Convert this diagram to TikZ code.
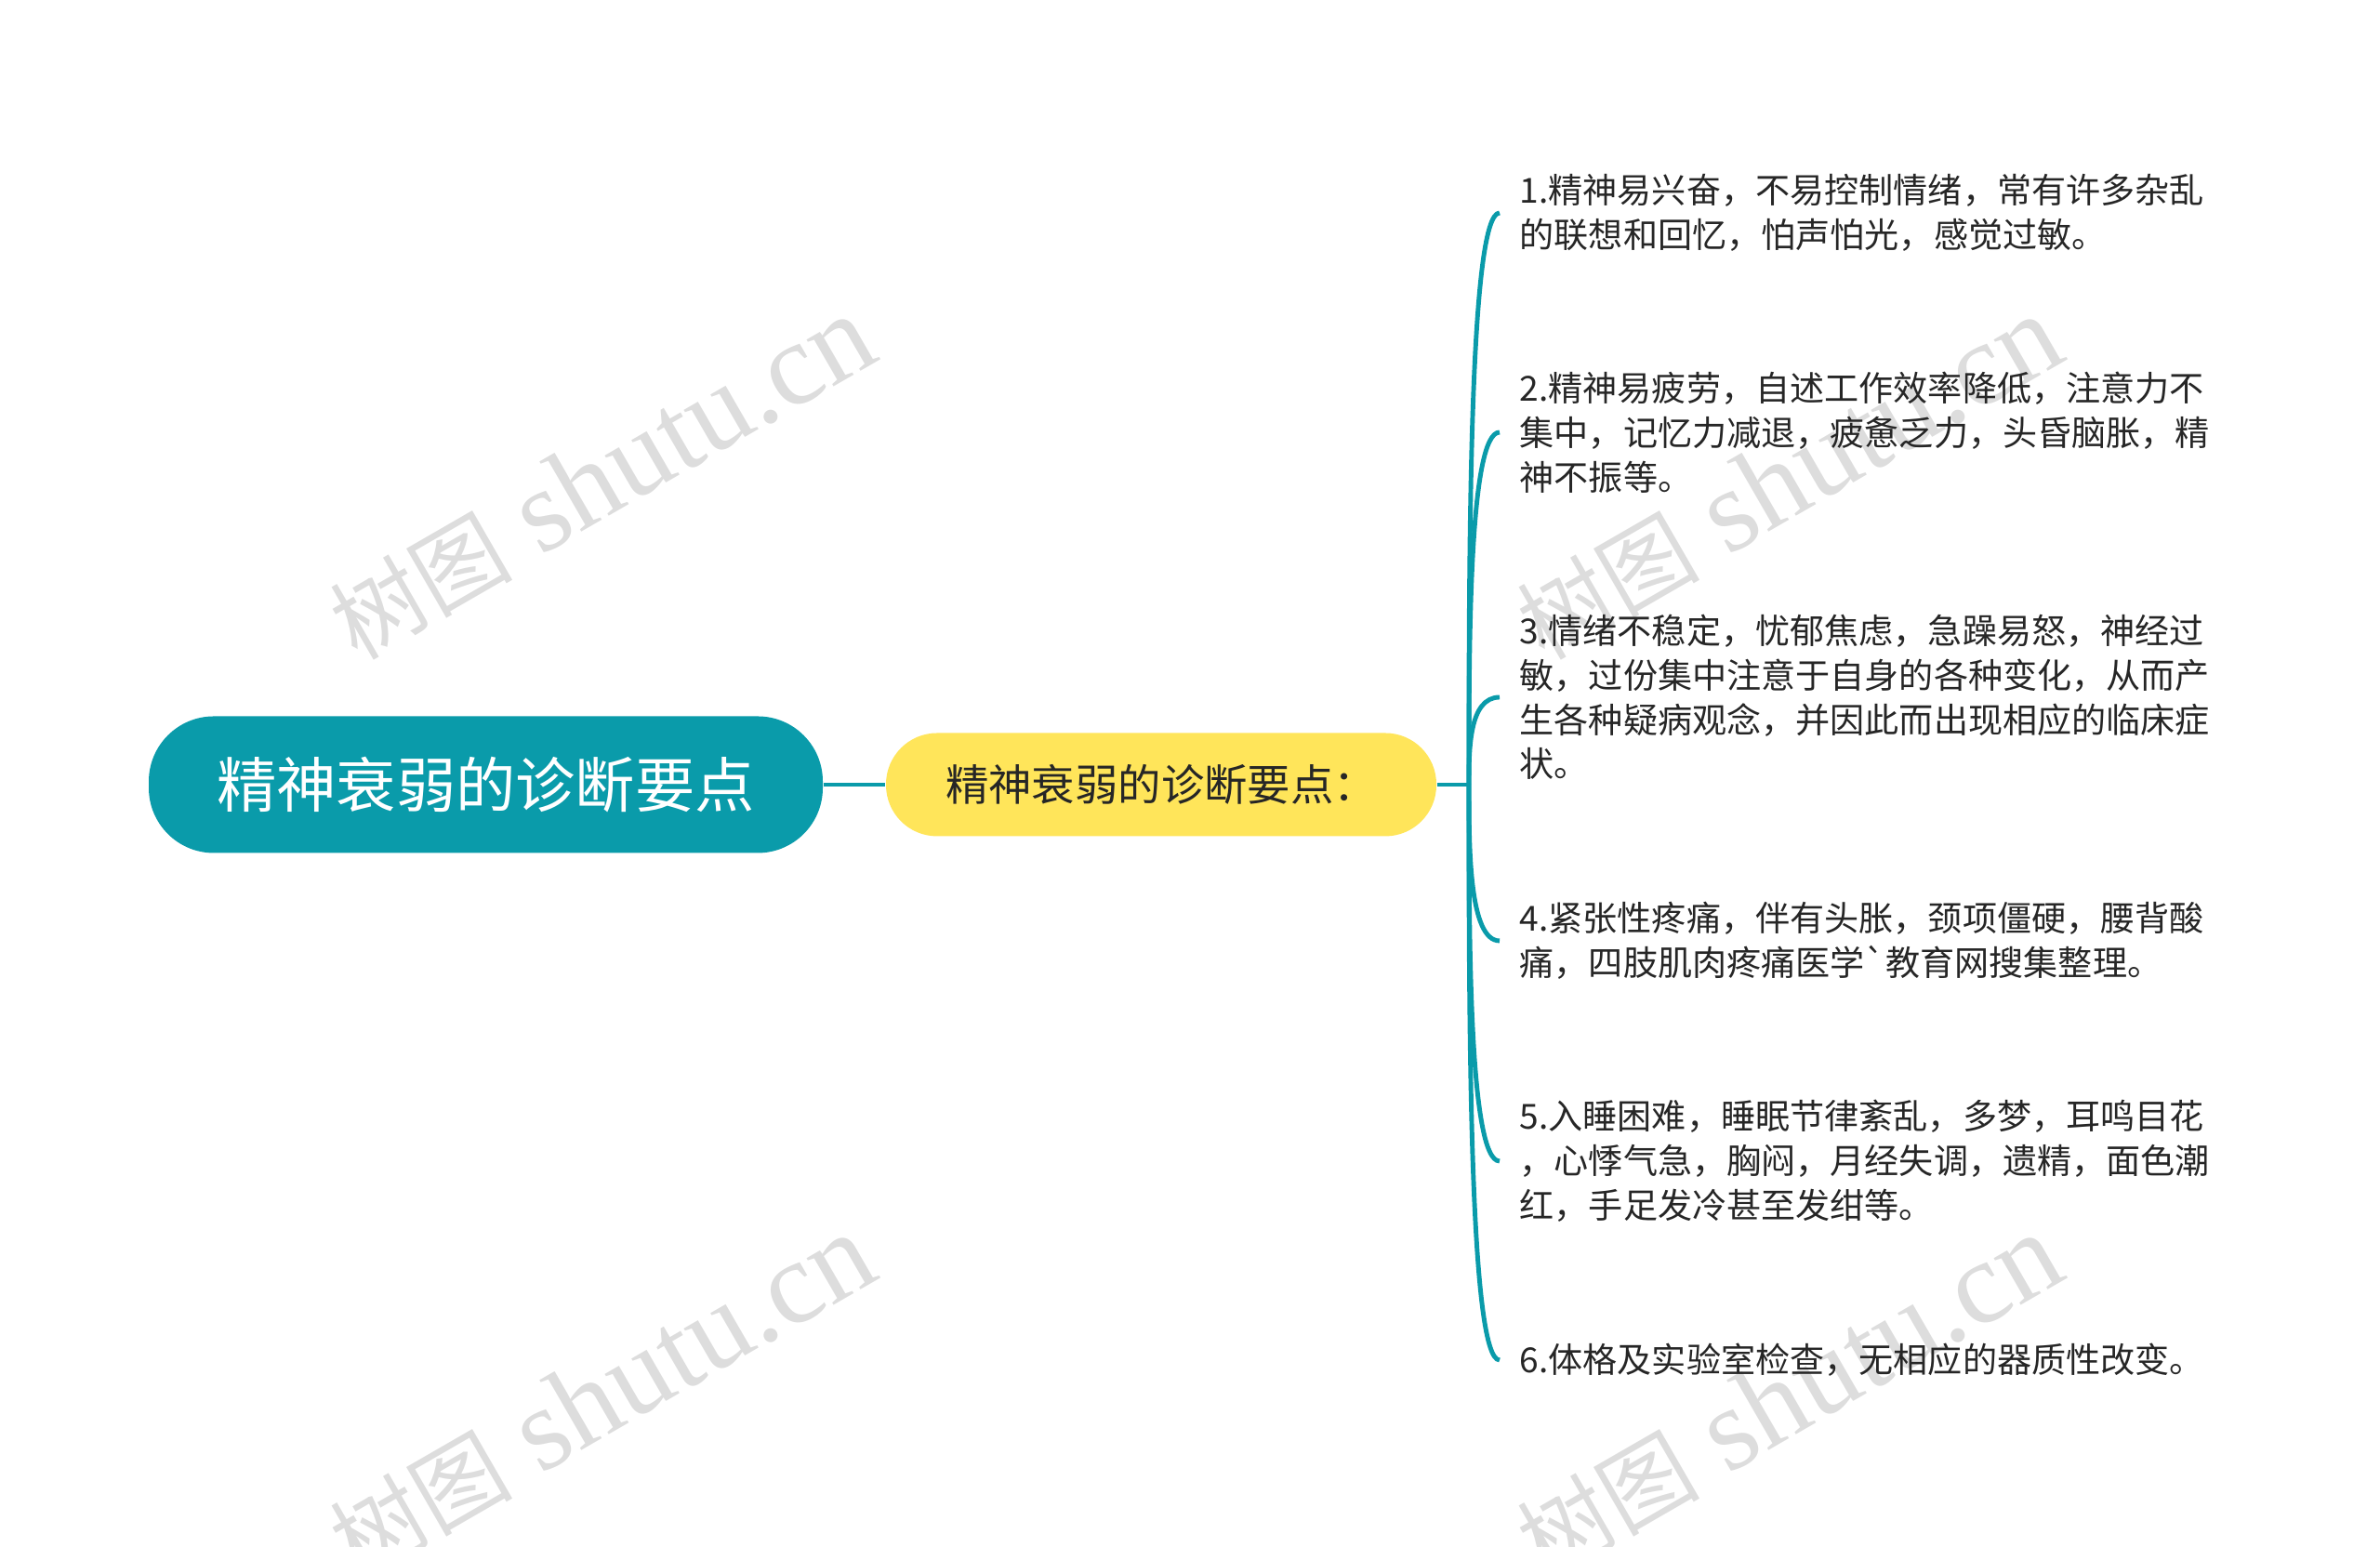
\documentclass[tikz,border=0pt]{standalone}
\usepackage{fontspec}
\setmainfont{Noto Sans CJK SC}
\newfontfamily\cjk{Noto Sans CJK SC}
\newfontfamily\markfont{Liberation Serif}
\usetikzlibrary{calc}
\definecolor{teal0}{HTML}{0A9BAA}
\definecolor{yellow0}{HTML}{FFE55A}
\definecolor{mark0}{HTML}{DDDDDD}
\definecolor{ink}{HTML}{262626}
\newcommand{\marktext}{{\cjk\fontsize{28}{30}\selectfont 树图}\hspace{0.3cm}{\markfont\fontsize{36}{40}\selectfont shutu.cn}}

\begin{document}
\begin{tikzpicture}[
  line/.style = {draw=teal0, line width=1.4pt},
  topic/.style = {fill=teal0, text=white, rounded corners=0.7cm, minimum width=7.25cm, minimum height=1.47cm, inner sep=0pt, font=\cjk\fontsize{18.3}{22}\selectfont},
  subtopic/.style = {fill=yellow0, text=ink, rounded corners=0.55cm, minimum width=5.92cm, minimum height=1.11cm, inner sep=0pt, font=\cjk\fontsize{13.2}{16}\selectfont},
  item/.style = {anchor=west, align=left, inner xsep=0.21cm, inner ysep=0pt, text=ink, font=\cjk\fontsize{10.56}{13.6}\selectfont},
  wmark/.style = {text=mark0, rotate=30, inner sep=0pt}
  ]
	\useasboundingbox (0,0) rectangle (25.6,16.64);

	% watermarks
	\node[wmark] (w1) at (6.47,11.50) {\marktext};
	\node[wmark] (w2) at (19.24,11.50) {\marktext};
	\node[wmark] (w3) at (6.47,1.62) {\marktext};
	\node[wmark] (w4) at (19.24,1.62) {\marktext};

	\node[topic] (root) at (5.225,8.20) {精神衰弱的诊断要点};
	\node[subtopic] (sub) at (12.49,8.20) {精神衰弱的诊断要点：};
	\coordinate (j) at (15.80,8.20);

	\node[item] (i1) at (16.13,14.35) {1.精神易兴奋，不易控制情绪，常有许多杂乱\\的联想和回忆，怕声怕光，感觉过敏。};
	\node[item] (i2) at (16.13,11.99) {2.精神易疲劳，自述工作效率降低，注意力不\\集中，记忆力减退，疲惫乏力，头昏脑胀，精\\神不振等。};
	\node[item] (i3) at (16.13,9.14) {3.情绪不稳定，忧郁焦虑，急躁易怒，神经过\\敏，过份集中注意于自身的各种变化，从而产\\生各种疑病观念，并因此而出现相应的临床症\\状。};
	\node[item] (i4) at (16.13,6.52) {4.紧张性疼痛，伴有头胀，颈项僵硬，腰背酸\\痛，四肢肌肉疼痛医学`教育网搜集整理。};
	\node[item] (i5) at (16.13,4.15) {5.入睡困难，睡眠节律紊乱，多梦，耳鸣目花\\，心悸气急，胸闷，月经失调，遗精，面色潮\\红，手足发冷甚至发绀等。};
	\node[item] (i6) at (16.13,2.01) {6.体格及实验室检查，无相应的器质性改变。};

	\draw[line] (root) -- (sub);
	\draw[line] (sub) -- (j);
	\draw[line] (j) .. controls ($(j)!0.4!(j|-i1.west)$) and (j|-i1.west) .. (i1.west);
	\draw[line] (j) .. controls ($(j)!0.4!(j|-i2.west)$) and (j|-i2.west) .. (i2.west);
	\draw[line] (j) .. controls ($(j)!0.4!(j|-i3.west)$) and (j|-i3.west) .. (i3.west);
	\draw[line] (j) .. controls ($(j)!0.4!(j|-i4.west)$) and (j|-i4.west) .. (i4.west);
	\draw[line] (j) .. controls ($(j)!0.4!(j|-i5.west)$) and (j|-i5.west) .. (i5.west);
	\draw[line] (j) .. controls ($(j)!0.4!(j|-i6.west)$) and (j|-i6.west) .. (i6.west);

\end{tikzpicture}
\end{document}
